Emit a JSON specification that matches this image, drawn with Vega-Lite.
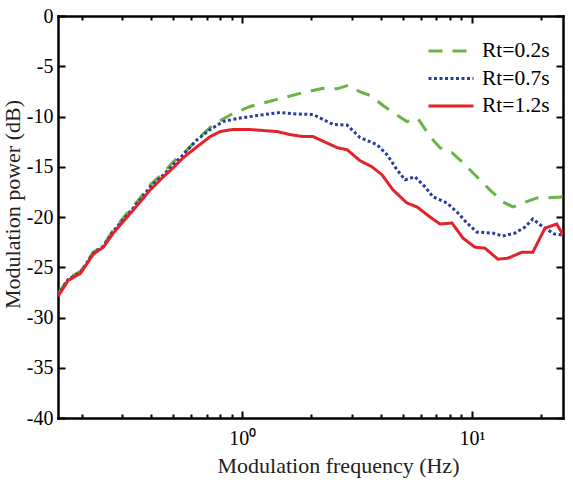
{
  "$schema": "https://vega.github.io/schema/vega-lite/v6.json",
  "width": 505,
  "height": 402,
  "autosize": {"type": "none"},
  "padding": {"left": 58, "top": 16, "right": 10, "bottom": 62},
  "config": {
    "view": {"stroke": null},
    "font": "Liberation Serif",
    "axis": {
      "grid": false,
      "domain": true,
      "ticks": true,
      "domainColor": "#000000",
      "domainWidth": 2.5,
      "domainCap": "square",
      "tickColor": "#000000",
      "tickWidth": 2,
      "labelColor": "#000000",
      "labelFont": "Liberation Serif",
      "labelFontSize": 20,
      "titleFont": "Liberation Serif",
      "titleFontSize": 22,
      "titleFontWeight": "normal",
      "titleColor": "#222222"
    }
  },
  "data": {
    "values": [
      {"rt": "Rt=0.2s", "f": 0.158, "db": -27.7},
      {"rt": "Rt=0.2s", "f": 0.175, "db": -26.1},
      {"rt": "Rt=0.2s", "f": 0.198, "db": -25.4},
      {"rt": "Rt=0.2s", "f": 0.225, "db": -23.5},
      {"rt": "Rt=0.2s", "f": 0.249, "db": -22.8},
      {"rt": "Rt=0.2s", "f": 0.275, "db": -21.3},
      {"rt": "Rt=0.2s", "f": 0.316, "db": -19.6},
      {"rt": "Rt=0.2s", "f": 0.36, "db": -18.1},
      {"rt": "Rt=0.2s", "f": 0.398, "db": -16.8},
      {"rt": "Rt=0.2s", "f": 0.454, "db": -15.6},
      {"rt": "Rt=0.2s", "f": 0.501, "db": -14.5},
      {"rt": "Rt=0.2s", "f": 0.56, "db": -13.6},
      {"rt": "Rt=0.2s", "f": 0.637, "db": -12.3},
      {"rt": "Rt=0.2s", "f": 0.748, "db": -10.8},
      {"rt": "Rt=0.2s", "f": 0.887, "db": -9.85},
      {"rt": "Rt=0.2s", "f": 1.083, "db": -9.0},
      {"rt": "Rt=0.2s", "f": 1.42, "db": -8.3},
      {"rt": "Rt=0.2s", "f": 1.786, "db": -7.7},
      {"rt": "Rt=0.2s", "f": 2.25, "db": -7.2},
      {"rt": "Rt=0.2s", "f": 2.59, "db": -7.25},
      {"rt": "Rt=0.2s", "f": 2.89, "db": -6.9},
      {"rt": "Rt=0.2s", "f": 3.26, "db": -7.55},
      {"rt": "Rt=0.2s", "f": 3.6, "db": -7.9},
      {"rt": "Rt=0.2s", "f": 4.1, "db": -8.9},
      {"rt": "Rt=0.2s", "f": 4.72, "db": -9.85},
      {"rt": "Rt=0.2s", "f": 5.21, "db": -10.5},
      {"rt": "Rt=0.2s", "f": 5.82, "db": -10.2},
      {"rt": "Rt=0.2s", "f": 6.57, "db": -12.0},
      {"rt": "Rt=0.2s", "f": 7.26, "db": -13.1},
      {"rt": "Rt=0.2s", "f": 8.19, "db": -13.6},
      {"rt": "Rt=0.2s", "f": 9.14, "db": -14.6},
      {"rt": "Rt=0.2s", "f": 10.5, "db": -16.0},
      {"rt": "Rt=0.2s", "f": 11.97, "db": -17.3},
      {"rt": "Rt=0.2s", "f": 13.6, "db": -18.5},
      {"rt": "Rt=0.2s", "f": 15.1, "db": -19.0},
      {"rt": "Rt=0.2s", "f": 16.7, "db": -18.6},
      {"rt": "Rt=0.2s", "f": 19.2, "db": -18.1},
      {"rt": "Rt=0.2s", "f": 21.4, "db": -18.1},
      {"rt": "Rt=0.2s", "f": 24.9, "db": -18.0},

      {"rt": "Rt=0.7s", "f": 0.158, "db": -27.8},
      {"rt": "Rt=0.7s", "f": 0.175, "db": -26.2},
      {"rt": "Rt=0.7s", "f": 0.198, "db": -25.5},
      {"rt": "Rt=0.7s", "f": 0.225, "db": -23.6},
      {"rt": "Rt=0.7s", "f": 0.249, "db": -22.9},
      {"rt": "Rt=0.7s", "f": 0.275, "db": -21.4},
      {"rt": "Rt=0.7s", "f": 0.316, "db": -19.8},
      {"rt": "Rt=0.7s", "f": 0.36, "db": -18.3},
      {"rt": "Rt=0.7s", "f": 0.398, "db": -17.0},
      {"rt": "Rt=0.7s", "f": 0.454, "db": -15.8},
      {"rt": "Rt=0.7s", "f": 0.501, "db": -14.8},
      {"rt": "Rt=0.7s", "f": 0.554, "db": -13.8},
      {"rt": "Rt=0.7s", "f": 0.637, "db": -12.3},
      {"rt": "Rt=0.7s", "f": 0.726, "db": -11.3},
      {"rt": "Rt=0.7s", "f": 0.827, "db": -10.5},
      {"rt": "Rt=0.7s", "f": 0.951, "db": -10.2},
      {"rt": "Rt=0.7s", "f": 1.162, "db": -9.9},
      {"rt": "Rt=0.7s", "f": 1.46, "db": -9.6},
      {"rt": "Rt=0.7s", "f": 1.73, "db": -9.75},
      {"rt": "Rt=0.7s", "f": 2.035, "db": -9.8},
      {"rt": "Rt=0.7s", "f": 2.49, "db": -10.8},
      {"rt": "Rt=0.7s", "f": 2.86, "db": -10.85},
      {"rt": "Rt=0.7s", "f": 3.26, "db": -12.1},
      {"rt": "Rt=0.7s", "f": 3.86, "db": -12.8},
      {"rt": "Rt=0.7s", "f": 4.27, "db": -13.8},
      {"rt": "Rt=0.7s", "f": 4.72, "db": -15.3},
      {"rt": "Rt=0.7s", "f": 5.11, "db": -16.3},
      {"rt": "Rt=0.7s", "f": 5.65, "db": -16.0},
      {"rt": "Rt=0.7s", "f": 6.25, "db": -17.0},
      {"rt": "Rt=0.7s", "f": 6.77, "db": -18.0},
      {"rt": "Rt=0.7s", "f": 7.78, "db": -18.6},
      {"rt": "Rt=0.7s", "f": 8.69, "db": -19.6},
      {"rt": "Rt=0.7s", "f": 9.51, "db": -20.6},
      {"rt": "Rt=0.7s", "f": 10.5, "db": -21.5},
      {"rt": "Rt=0.7s", "f": 12.3, "db": -21.6},
      {"rt": "Rt=0.7s", "f": 13.6, "db": -21.9},
      {"rt": "Rt=0.7s", "f": 15.4, "db": -21.6},
      {"rt": "Rt=0.7s", "f": 17.0, "db": -21.0},
      {"rt": "Rt=0.7s", "f": 18.4, "db": -20.2},
      {"rt": "Rt=0.7s", "f": 20.4, "db": -21.0},
      {"rt": "Rt=0.7s", "f": 22.9, "db": -21.7},
      {"rt": "Rt=0.7s", "f": 24.9, "db": -21.8},

      {"rt": "Rt=1.2s", "f": 0.158, "db": -27.9},
      {"rt": "Rt=1.2s", "f": 0.175, "db": -26.3},
      {"rt": "Rt=1.2s", "f": 0.198, "db": -25.6},
      {"rt": "Rt=1.2s", "f": 0.225, "db": -23.7},
      {"rt": "Rt=1.2s", "f": 0.249, "db": -23.0},
      {"rt": "Rt=1.2s", "f": 0.275, "db": -21.6},
      {"rt": "Rt=1.2s", "f": 0.316, "db": -20.0},
      {"rt": "Rt=1.2s", "f": 0.36, "db": -18.5},
      {"rt": "Rt=1.2s", "f": 0.398, "db": -17.3},
      {"rt": "Rt=1.2s", "f": 0.454, "db": -16.0},
      {"rt": "Rt=1.2s", "f": 0.501, "db": -15.1},
      {"rt": "Rt=1.2s", "f": 0.554, "db": -14.1},
      {"rt": "Rt=1.2s", "f": 0.637, "db": -13.0},
      {"rt": "Rt=1.2s", "f": 0.726, "db": -12.0},
      {"rt": "Rt=1.2s", "f": 0.802, "db": -11.5},
      {"rt": "Rt=1.2s", "f": 0.905, "db": -11.3},
      {"rt": "Rt=1.2s", "f": 1.083, "db": -11.3},
      {"rt": "Rt=1.2s", "f": 1.42, "db": -11.5},
      {"rt": "Rt=1.2s", "f": 1.617, "db": -11.8},
      {"rt": "Rt=1.2s", "f": 1.84, "db": -12.0},
      {"rt": "Rt=1.2s", "f": 2.035, "db": -12.0},
      {"rt": "Rt=1.2s", "f": 2.59, "db": -13.1},
      {"rt": "Rt=1.2s", "f": 2.86, "db": -13.3},
      {"rt": "Rt=1.2s", "f": 3.26, "db": -14.4},
      {"rt": "Rt=1.2s", "f": 3.67, "db": -15.0},
      {"rt": "Rt=1.2s", "f": 4.06, "db": -15.8},
      {"rt": "Rt=1.2s", "f": 4.53, "db": -17.3},
      {"rt": "Rt=1.2s", "f": 5.21, "db": -18.6},
      {"rt": "Rt=1.2s", "f": 5.77, "db": -19.0},
      {"rt": "Rt=1.2s", "f": 6.57, "db": -20.0},
      {"rt": "Rt=1.2s", "f": 7.26, "db": -20.7},
      {"rt": "Rt=1.2s", "f": 8.19, "db": -20.6},
      {"rt": "Rt=1.2s", "f": 9.14, "db": -22.1},
      {"rt": "Rt=1.2s", "f": 10.3, "db": -23.0},
      {"rt": "Rt=1.2s", "f": 11.39, "db": -23.1},
      {"rt": "Rt=1.2s", "f": 12.97, "db": -24.2},
      {"rt": "Rt=1.2s", "f": 14.34, "db": -24.1},
      {"rt": "Rt=1.2s", "f": 16.5, "db": -23.5},
      {"rt": "Rt=1.2s", "f": 18.4, "db": -23.5},
      {"rt": "Rt=1.2s", "f": 20.8, "db": -21.1},
      {"rt": "Rt=1.2s", "f": 23.4, "db": -20.7},
      {"rt": "Rt=1.2s", "f": 24.9, "db": -21.8}
    ]
  },
  "layer": [
    {
      "mark": {"type": "line", "strokeWidth": 3, "clip": true},
      "encoding": {
        "x": {
          "field": "f",
          "type": "quantitative",
          "scale": {"type": "log", "domain": [0.158, 24.9], "nice": false},
          "axis": {
            "orient": "bottom",
            "title": "Modulation frequency (Hz)",
            "titleX": 280,
            "titleAlign": "center",
            "titlePadding": 4,
            "values": [0.2, 0.3, 0.4, 0.5, 0.6, 0.7, 0.8, 0.9, 1, 2, 3, 4, 5, 6, 7, 8, 9, 10, 20],
            "labelExpr": "datum.value == 1 ? '10⁰' : datum.value == 10 ? '10¹' : ''",
            "labelOverlap": false,
            "labelFlush": false,
            "labelPadding": 17,
            "tickSize": {"condition": {"test": "datum.value == 1 || datum.value == 10", "value": -7}, "value": -4}
          }
        },
        "y": {
          "field": "db",
          "type": "quantitative",
          "scale": {"domain": [-40, 0], "nice": false},
          "axis": {
            "orient": "left",
            "title": "Modulation power (dB)",
            "titleY": 188,
            "titleAlign": "center",
            "titlePadding": 2,
            "values": [-40, -35, -30, -25, -20, -15, -10, -5, 0],
            "labelExpr": "datum.value == 0 ? '0' : '-' + abs(datum.value)",
            "labelPadding": 12,
            "tickSize": -7
          }
        },
        "color": {
          "field": "rt",
          "type": "nominal",
          "scale": {"domain": ["Rt=0.2s", "Rt=0.7s", "Rt=1.2s"], "range": ["#6ab344", "#2b3c9e", "#e3222a"]},
          "legend": {
            "title": null,
            "orient": "none",
            "legendX": 369,
            "legendY": 24,
            "direction": "vertical",
            "padding": 0,
            "symbolType": "stroke",
            "symbolSize": 2025,
            "symbolStrokeWidth": 3,
            "clipHeight": 22,
            "rowPadding": 5.5,
            "labelFont": "Liberation Serif",
            "labelFontSize": 21.5,
            "labelColor": "#000000",
            "labelOffset": 7
          }
        },
        "strokeDash": {
          "field": "rt",
          "type": "nominal",
          "scale": {"domain": ["Rt=0.2s", "Rt=0.7s", "Rt=1.2s"], "range": [[14, 10], [3, 2.5], [1, 0]]},
          "legend": {
            "title": null,
            "orient": "none",
            "legendX": 369,
            "legendY": 24,
            "direction": "vertical",
            "padding": 0,
            "symbolType": "stroke",
            "symbolSize": 2025,
            "symbolStrokeWidth": 3,
            "clipHeight": 22,
            "rowPadding": 5.5,
            "labelFont": "Liberation Serif",
            "labelFontSize": 21.5,
            "labelColor": "#000000",
            "labelOffset": 7
          }
        }
      }
    },
    {
      "mark": {"type": "line", "opacity": 0},
      "encoding": {
        "x": {
          "field": "f",
          "type": "quantitative",
          "axis": {
            "orient": "top",
            "title": null,
            "labels": false,
            "values": [0.2, 0.3, 0.4, 0.5, 0.6, 0.7, 0.8, 0.9, 1, 2, 3, 4, 5, 6, 7, 8, 9, 10, 20],
            "tickSize": {"condition": {"test": "datum.value == 1 || datum.value == 10", "value": -7}, "value": -4}
          }
        },
        "y": {
          "field": "db",
          "type": "quantitative",
          "axis": {
            "orient": "right",
            "title": null,
            "labels": false,
            "values": [-40, -35, -30, -25, -20, -15, -10, -5, 0],
            "tickSize": -7
          }
        }
      }
    }
  ],
  "resolve": {"axis": {"x": "independent", "y": "independent"}}
}
